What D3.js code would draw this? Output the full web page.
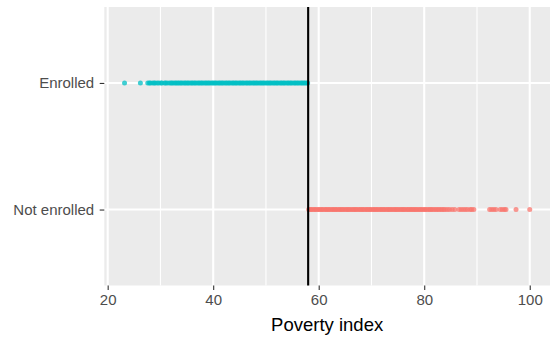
<!DOCTYPE html>
<html>
<head>
<meta charset="utf-8">
<script src="https://cdn.jsdelivr.net/npm/d3@7"></script>
<style>
  html, body { margin: 0; padding: 0; background: #ffffff; }
  svg { display: block; }
  text { font-family: "Liberation Sans", Arial, sans-serif; }
</style>
</head>
<body>
<svg id="chart" width="560" height="346"></svg>
<script>
// Groups on the vertical axis (bottom to top)
const groups = ["Not enrolled", "Enrolled"];
const groupColors = ["#F8766D", "#00BFC4"];

// Poverty index of households, by enrolment status
const enrolledValues = [
  23.2, 26.2, 27.6, 27.9, 28.1, 28.5, 28.8, 29.0, 29.4, 29.7, 30.1, 30.3, 30.8, 31.0,
  31.3, 31.7, 32.0, 32.2, 32.5, 32.8, 33.0, 33.3, 33.5, 33.8, 34.0, 34.3, 34.6, 34.8,
  35.1, 35.3, 35.6, 35.9, 36.1, 36.4, 36.6, 36.9, 37.2, 37.4, 37.7, 37.9, 38.2, 38.5,
  38.7, 39.0, 39.2, 39.5, 39.8, 40.0, 40.3, 40.5, 40.8, 41.1, 41.3, 41.6, 41.8, 42.1,
  42.4, 42.6, 42.9, 43.1, 43.4, 43.7, 43.9, 44.2, 44.4, 44.7, 45.0, 45.2, 45.5, 45.7,
  46.0, 46.3, 46.5, 46.8, 47.0, 47.3, 47.6, 47.8, 48.1, 48.3, 48.6, 48.9, 49.1, 49.4,
  49.6, 49.9, 50.2, 50.4, 50.7, 50.9, 51.2, 51.5, 51.7, 52.0, 52.2, 52.5, 52.8, 53.0,
  53.3, 53.5, 53.8, 54.1, 54.3, 54.6, 54.8, 55.1, 55.4, 55.6, 55.9, 56.1, 56.4, 56.7,
  56.9, 57.2, 57.4, 57.7, 57.9
];
const notEnrolledValues = [
  58.1, 58.4, 58.6, 58.9, 59.2, 59.4, 59.7, 60.0, 60.2, 60.5, 60.7, 61.0, 61.3, 61.5,
  61.8, 62.0, 62.3, 62.6, 62.8, 63.1, 63.3, 63.6, 63.9, 64.1, 64.4, 64.6, 64.9, 65.2,
  65.4, 65.7, 65.9, 66.2, 66.5, 66.7, 67.0, 67.2, 67.5, 67.8, 68.0, 68.3, 68.5, 68.8,
  69.1, 69.3, 69.6, 69.8, 70.1, 70.4, 70.6, 70.9, 71.1, 71.4, 71.7, 71.9, 72.2, 72.4,
  72.7, 73.0, 73.2, 73.5, 73.7, 74.0, 74.3, 74.5, 74.8, 75.0, 75.3, 75.6, 75.8, 76.1,
  76.3, 76.6, 76.9, 77.1, 77.4, 77.6, 77.9, 78.1, 78.4, 78.6, 78.9, 79.2, 79.4, 79.7,
  80.0, 80.2, 80.5, 80.8, 81.1, 81.3, 81.6, 81.9, 82.2, 82.5, 82.8, 83.1, 83.4, 83.7,
  84.0, 84.4, 84.8, 85.3, 85.8, 86.6, 87.0, 87.4, 87.8, 88.2, 88.7, 89.0, 89.4, 92.4,
  92.8, 93.2, 93.6, 94.4, 94.8, 95.2, 95.5, 97.4, 100.0
];
const seriesValues = [notEnrolledValues, enrolledValues];

// Eligibility cut-off
const cutoff = [58];

// Axis ticks
const xMajorTicks = [20, 40, 60, 80, 100];
const xMinorTicks = [30, 50, 70, 90];
const xDomain = [19.36, 103.84];
const xTitle = "Poverty index";

const svg = d3.select("#chart");
const panel = { left: 104.3, right: 550, top: 7, bottom: 285.5 };

const x = d3.scaleLinear().domain(xDomain).range([panel.left, panel.right]);
const y = d3.scalePoint().domain(groups).range([panel.bottom, panel.top]).padding(0.6);

// Panel background
svg.append("rect")
  .attr("x", panel.left).attr("y", panel.top)
  .attr("width", panel.right - panel.left)
  .attr("height", panel.bottom - panel.top)
  .attr("fill", "#EBEBEB");

// Grid lines
const grid = svg.append("g");
grid.selectAll("line.minor").data(xMinorTicks).join("line")
  .attr("class", "minor")
  .attr("x1", d => x(d)).attr("x2", d => x(d))
  .attr("y1", panel.top).attr("y2", panel.bottom)
  .attr("stroke", "#ffffff").attr("stroke-width", 1.1);
grid.selectAll("line.majorx").data(xMajorTicks).join("line")
  .attr("class", "majorx")
  .attr("x1", d => x(d)).attr("x2", d => x(d))
  .attr("y1", panel.top).attr("y2", panel.bottom)
  .attr("stroke", "#ffffff").attr("stroke-width", 2.1);
grid.selectAll("line.majory").data(groups).join("line")
  .attr("class", "majory")
  .attr("x1", panel.left).attr("x2", panel.right)
  .attr("y1", d => y(d)).attr("y2", d => y(d))
  .attr("stroke", "#ffffff").attr("stroke-width", 2.1);

// Points
const pointData = [];
groups.forEach((g, i) => {
  seriesValues[i].forEach(v => pointData.push({ group: g, value: v, color: groupColors[i] }));
});
svg.append("g").selectAll("circle").data(pointData).join("circle")
  .attr("cx", d => x(d.value))
  .attr("cy", d => y(d.group))
  .attr("r", 2.5)
  .attr("fill", d => d.color)
  .attr("fill-opacity", 0.75);

// Cut-off line
svg.append("g").selectAll("line").data(cutoff).join("line")
  .attr("x1", d => x(d)).attr("x2", d => x(d))
  .attr("y1", panel.top).attr("y2", panel.bottom)
  .attr("stroke", "#000000").attr("stroke-width", 2.1);

// X axis
const xAxis = svg.append("g")
  .attr("transform", `translate(0,${panel.bottom})`)
  .call(d3.axisBottom(x).tickValues(xMajorTicks).tickFormat(d3.format("d")).tickSize(4.6).tickPadding(4.5));
xAxis.select(".domain").remove();
xAxis.selectAll(".tick line").attr("stroke", "#333333").attr("stroke-width", 1.1);
xAxis.selectAll(".tick text")
  .attr("fill", "#4D4D4D")
  .style("font-size", "15px")
  .style("font-family", "'Liberation Sans', Arial, sans-serif");

// Y axis
const yAxis = svg.append("g")
  .attr("transform", `translate(${panel.left},0)`)
  .call(d3.axisLeft(y).tickSize(4.6).tickPadding(5.5));
yAxis.select(".domain").remove();
yAxis.selectAll(".tick line").attr("stroke", "#333333").attr("stroke-width", 1.1);
yAxis.selectAll(".tick text")
  .attr("fill", "#4D4D4D")
  .style("font-size", "15px")
  .style("font-family", "'Liberation Sans', Arial, sans-serif");

// Axis title
svg.append("text")
  .attr("x", (panel.left + panel.right) / 2)
  .attr("y", 330.5)
  .attr("text-anchor", "middle")
  .attr("fill", "#000000")
  .style("font-size", "18.5px")
  .text(xTitle);
</script>
</body>
</html>
